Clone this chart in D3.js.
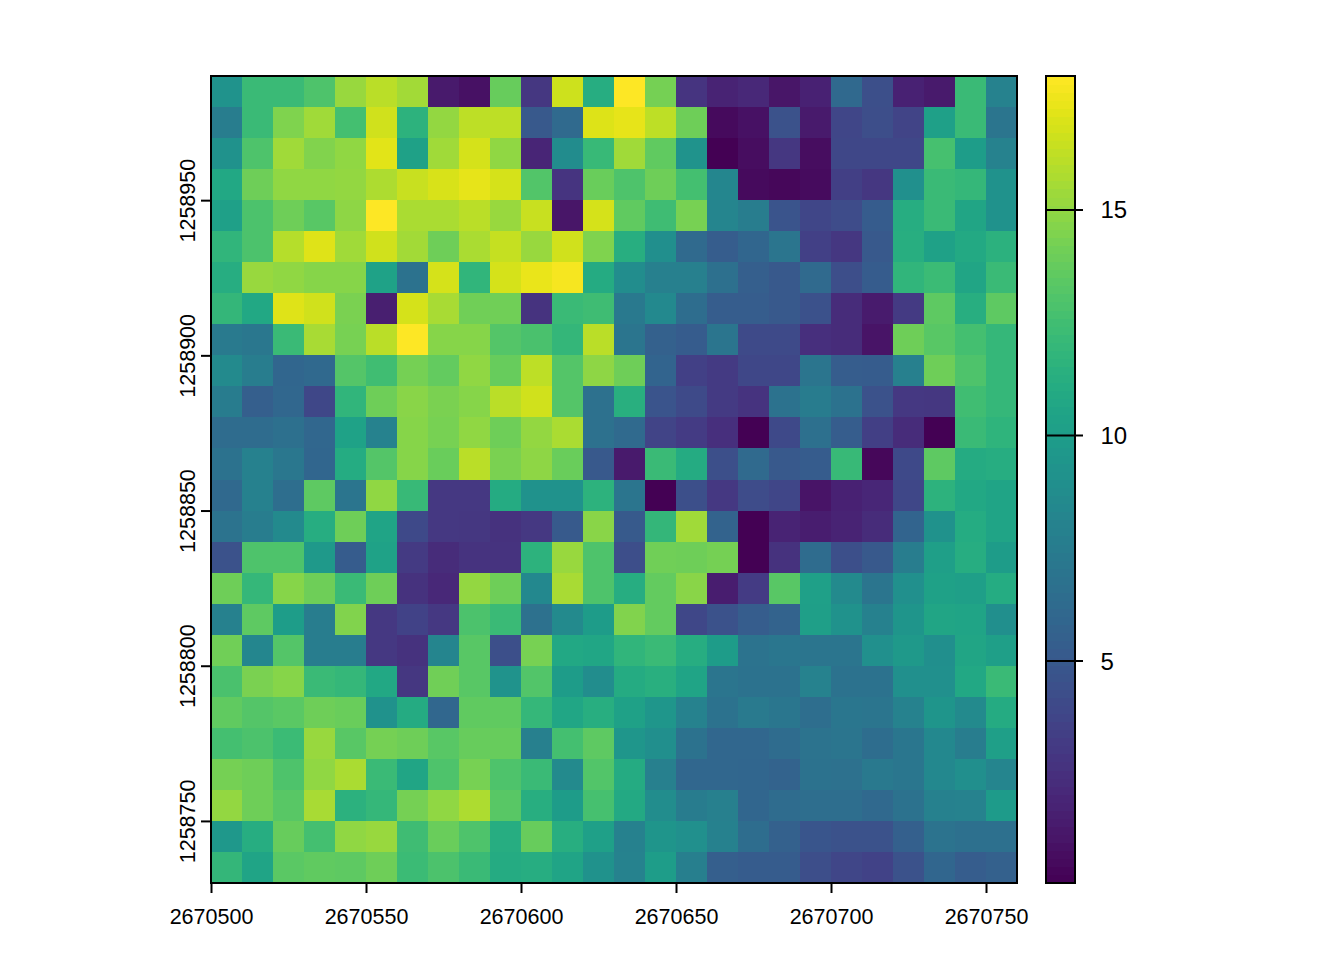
<!DOCTYPE html>
<html><head><meta charset="utf-8">
<script src="https://cdn.jsdelivr.net/npm/d3@7"></script>
<style>html,body{margin:0;padding:0;background:#fff}svg{display:block}text{font-family:"Liberation Sans",Arial,sans-serif;fill:#000}</style>
</head><body><svg id="c" width="1344" height="960"></svg>
<script>
const xStart = 2670500, cellSize = 10, yTop = 1258990;
const xTicks = [2670500,2670550,2670600,2670650,2670700,2670750];
const yTicks = [1258750,1258800,1258850,1258900,1258950];
const legendTicks = [5,10,15];
const valueRange = [0.08,17.97];
const rasterRows = [
[9.3,12.2,12.2,13,15.2,16.1,15.5,1.3,0.9,13.8,2.9,16.6,11.2,18,14.2,2.8,1.8,2.1,1.1,1.7,6.1,4.4,1.7,1.3,12.2,8],
[7.6,12.2,14.5,15.4,12.6,16.7,11.6,15.1,16.2,16.2,5,6.2,17,17.3,16.2,14,0.5,0.9,4.6,1.3,3.8,4.3,3.7,10.2,12.2,7],
[9.2,13,15.4,14.6,15,17.15,10.3,15.4,16.8,15,1.9,8.7,12.1,15.4,13.6,9.3,0.1,0.7,2.9,0.7,3.9,3.9,3.9,12.7,10,8],
[10.8,14,15,15,15.1,15.8,16.5,16.9,17.3,16.8,13.1,2.8,13.9,13,14,12.6,8.3,0.5,0.4,0.6,3.4,2.9,9,12.2,12,9.2],
[10.2,12.9,14,13.3,14.9,18,15.7,15.7,16.1,15.2,16.5,1.1,16.8,13.6,12.4,14.3,8.2,7.6,4.7,3.8,4.2,5.2,11.2,12.2,10.6,9.2],
[11.8,12.9,16,17.1,15.4,16.7,15.5,14,15.7,16.4,15.2,16.7,14.5,11.3,8.9,6.2,5.3,5.9,7,3.5,2.9,5,11.3,10.3,10.9,11.5],
[11.2,15.2,15,14.7,14.7,10.4,6.8,16.8,11.8,16.8,17.4,17.7,11,8.8,7.8,7.8,6.6,5.4,5,6.2,4.3,5.2,11.8,12.3,10.6,12.2],
[11.9,10.8,17.1,16.7,14.4,1.6,16.8,15.6,14.1,14.1,2.7,12.2,12.4,7.3,8.5,6.4,5.3,5.3,5,4.5,2.3,1.4,3.1,13.5,11.3,13.5],
[7.4,7.2,12.2,15.6,14.3,16.1,18,14.7,14.7,13.2,12.8,11.9,16.1,7,5.6,5.2,7,4.1,4.1,2.5,2.3,1,14,13.3,12.6,12],
[8.6,7.6,5.9,6.1,13.2,12.5,14.2,13.7,15,13.8,16.2,13.2,14.9,14,5.8,3.5,3.1,3.9,3.9,7,5.3,5.2,7.8,14,13,12],
[7.5,5.4,6,3.9,11.8,14,14.8,14.4,14.7,16.1,16.7,13.2,6.7,11.4,4.7,4.1,3.1,2.7,6.8,7.5,6.8,4.6,3,2.9,12.5,12],
[6.3,6.3,6.6,6,10.4,8,14.7,14.3,15,14,15.1,15.7,6.7,6.2,3.7,3.2,2.5,0.1,4,6.6,5.3,3.4,2.3,0.1,12.2,11.7],
[6.8,7.9,7.2,5.9,11.1,13.2,14.7,13.9,16.1,14.4,14.9,13.9,5,1.3,12.2,11,4.4,6.2,5,5.2,12.1,0.4,4,13.5,11,11.2],
[6.1,7.9,6.5,13.5,7,15,12.1,3,3,11,9.2,9.2,11.6,7,0.1,4.4,3,4.2,3.8,1,1.7,2,3.9,11.6,10.8,10.5],
[6.9,7.6,8.6,11.2,14,10.5,4,3,2.9,2.6,3,5.1,14.8,5.1,11.9,15.4,5.7,0.1,1.8,1.5,1.8,2.3,5.8,9.2,11.1,10.5],
[4.6,13,13,9.7,5.2,10.4,3.1,2.3,2.7,2.7,11.6,15.2,13,4.3,14.1,14,14.2,0.1,2.6,6.3,4.4,5,7.6,10.1,11.2,9.9],
[14,12,14.7,14,12.2,14,2.6,2.1,15.1,14,8.4,15.6,13,11.2,13.7,14.8,1.5,3.2,13.3,10.2,8.6,7,9,10.3,10.1,11.1],
[7.9,13.5,10,7.6,14.6,3,3.6,3,12.9,12.2,6.7,8.6,9.9,14.6,13.7,3.9,4.6,5.3,5.7,10.1,9.2,7.9,9.4,10.6,10.5,8.9],
[14.1,8.3,13.2,7.6,7.6,3,2.6,8.2,13.3,4.4,14.3,10.8,10.7,11.8,12.2,11.2,9.9,6.9,7.1,7,7,9,9.7,8.9,10.6,10.1],
[12.8,14.4,14.7,12.2,12,10.8,2.9,14.1,13.3,9.3,13.1,9.9,8.8,11,11.4,10.5,7,6.8,6.8,8,6.8,6.8,9,9,10.8,12.2],
[13.6,13.2,13.4,14,13.9,9.2,11,6,13.6,13.6,12,10.7,11.3,10.3,9.5,8,6.8,7.4,7.1,6.5,7.1,7,8,9.4,8.6,11],
[12.6,12.9,12.3,15.2,13.3,14.2,14,13.3,13.8,13.8,7.8,12.6,13.5,9.5,8.9,6.8,6,6,6.3,6.9,7,6.4,7.1,8.4,7.6,10.1],
[14.2,14,13,15,15.7,12.2,10.6,13,14.3,13,12.2,8.6,13.1,11,7.8,6,6,5.9,5.7,6.8,6.7,7.3,7.1,8.4,8.9,8.2],
[15.1,14,13.3,15.6,11.5,12,14.2,15,15.8,13.3,11.3,9.9,12.7,10.9,8.8,7.5,7.8,5.9,6.3,6.5,6.5,6.1,6.8,7.9,8,9.8],
[9.6,11.2,13.8,12.6,15,15.2,12.4,13.9,13,11.2,13.8,11.3,10.2,7.9,9.4,9,7.9,6.4,5.6,4.8,4.6,4.6,5.5,6.9,6.6,6.6],
[11.9,10.5,13.4,13.6,13.5,14,12.3,12.9,12.2,11,11.2,10.5,9.2,8,10,7.7,5.4,5.2,5.2,4.3,3.8,3.6,4.6,5.9,5.3,5.6]
];

const svg = d3.select("#c");
const x = d3.scaleLinear().domain([xStart, xStart + cellSize*26]).range([211,1017]);
const y = d3.scaleLinear().domain([yTop - cellSize*26, yTop]).range([883,76]);
const color = d3.scaleSequential(d3.interpolateViridis).domain(valueRange);
const legendY = d3.scaleLinear().domain(valueRange).range([883,76]);

const cells = rasterRows.flatMap((r,i)=>r.map((v,j)=>({i,j,v})));
svg.append("g").attr("shape-rendering","crispEdges").selectAll("rect").data(cells).join("rect")
  .attr("x",d=>x(xStart+d.j*cellSize))
  .attr("y",d=>y(yTop-d.i*cellSize))
  .attr("width",d=>x(xStart+(d.j+1)*cellSize)-x(xStart+d.j*cellSize))
  .attr("height",d=>y(yTop-(d.i+1)*cellSize)-y(yTop-d.i*cellSize))
  .attr("fill",d=>color(d.v));

const strokeW = 2;
svg.append("rect").attr("x",x.range()[0]).attr("y",y.range()[1])
  .attr("width",x.range()[1]-x.range()[0]).attr("height",y.range()[0]-y.range()[1])
  .attr("fill","none").attr("stroke","#000").attr("stroke-width",strokeW);

const ax = svg.append("g").attr("transform","translate(0,883)")
  .call(d3.axisBottom(x).tickValues(xTicks).tickFormat(d3.format("d")).tickSize(10).tickPadding(0));
ax.select(".domain").remove();
ax.selectAll("line").attr("stroke","#000").attr("stroke-width",strokeW);
ax.selectAll("text").attr("y",41).attr("dy",0).attr("font-size",21.5).attr("text-anchor","middle");

const ay = svg.append("g").attr("transform","translate(211,0)")
  .call(d3.axisLeft(y).tickValues(yTicks).tickFormat(d3.format("d")).tickSize(10).tickPadding(0));
ay.select(".domain").remove();
ay.selectAll("line").attr("stroke","#000").attr("stroke-width",strokeW);
ay.selectAll("text").attr("x",null).attr("dy",0).attr("text-anchor","middle").attr("font-size",21.5)
  .attr("transform","translate(-16,0) rotate(-90)");

// colour bar
const steps = d3.range(100).map(k=>valueRange[0]+(valueRange[1]-valueRange[0])*k/100);
const stepH = (valueRange[1]-valueRange[0])/100;
svg.append("g").attr("shape-rendering","crispEdges").selectAll("rect").data(steps).join("rect")
  .attr("x",1046).attr("width",29)
  .attr("y",d=>legendY(d+stepH)).attr("height",d=>legendY(d)-legendY(d+stepH)+0.5)
  .attr("fill",d=>color(d+stepH/2));
svg.append("rect").attr("x",1046).attr("y",76).attr("width",29).attr("height",807)
  .attr("fill","none").attr("stroke","#000").attr("stroke-width",strokeW);
const lg = svg.append("g").selectAll("g").data(legendTicks).join("g")
  .attr("transform",d=>`translate(0,${legendY(d)})`);
lg.append("line").attr("x1",1046).attr("x2",1083).attr("stroke","#000").attr("stroke-width",strokeW);
lg.append("text").attr("x",1100.5).attr("y",8.5).attr("font-size",24).text(d=>d);
</script></body></html>
